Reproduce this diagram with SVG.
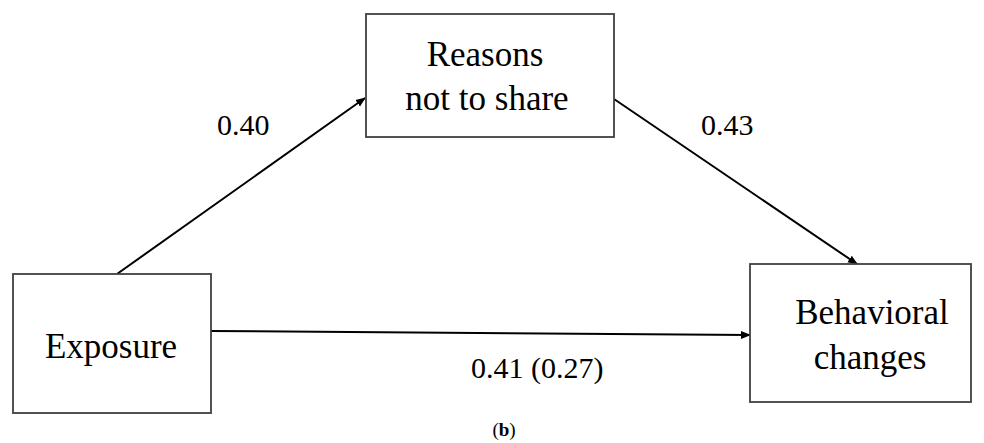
<svg xmlns="http://www.w3.org/2000/svg" width="984" height="443" viewBox="0 0 984 443">
<style>
.box{fill:#fff;stroke:#404040;stroke-width:1.8}
.node{font-family:'Liberation Serif','Times New Roman',serif;font-size:35px;fill:#000;text-anchor:middle}
.lbl{font-family:'Liberation Serif','Times New Roman',serif;font-size:30px;fill:#000}
.cap{font-family:'Liberation Serif','Times New Roman',serif;font-size:19px;fill:#000;text-anchor:middle}
.edge{stroke:#000;stroke-width:2;fill:none;marker-end:url(#ah)}
</style>
<defs>
<marker id="ah" viewBox="0 0 10 10" refX="9" refY="5" markerWidth="5" markerHeight="5" orient="auto" markerUnits="strokeWidth">
<path d="M0,1 L10,5 L0,9 z" fill="#000"/>
</marker>
</defs>
<rect width="984" height="443" fill="#fff"/>
<g id="edges">
<line class="edge" x1="117" y1="274" x2="365" y2="98"/>
<line class="edge" x1="614" y1="99" x2="857" y2="264"/>
<line class="edge" x1="211" y1="331" x2="750" y2="335"/>
</g>
<g id="reasons">
<rect class="box" x="366" y="14" width="248" height="123"/>
<text class="node" x="485" y="66">Reasons</text>
<text class="node" x="487" y="110">not to share</text>
</g>
<g id="exposure">
<rect class="box" x="13" y="274" width="198" height="139"/>
<text class="node" x="111" y="358">Exposure</text>
</g>
<g id="behavioral">
<rect class="box" x="750" y="264" width="221" height="138"/>
<text class="node" x="872" y="324">Behavioral</text>
<text class="node" x="870" y="369">changes</text>
</g>
<g id="labels">
<text class="lbl" x="217" y="135">0.40</text>
<text class="lbl" x="701" y="135">0.43</text>
<text class="lbl" x="471" y="378" font-size="31">0.41 (0.27)</text>
<text class="cap" x="504" y="436">(<tspan font-weight="bold">b</tspan>)</text>
</g>
</svg>
